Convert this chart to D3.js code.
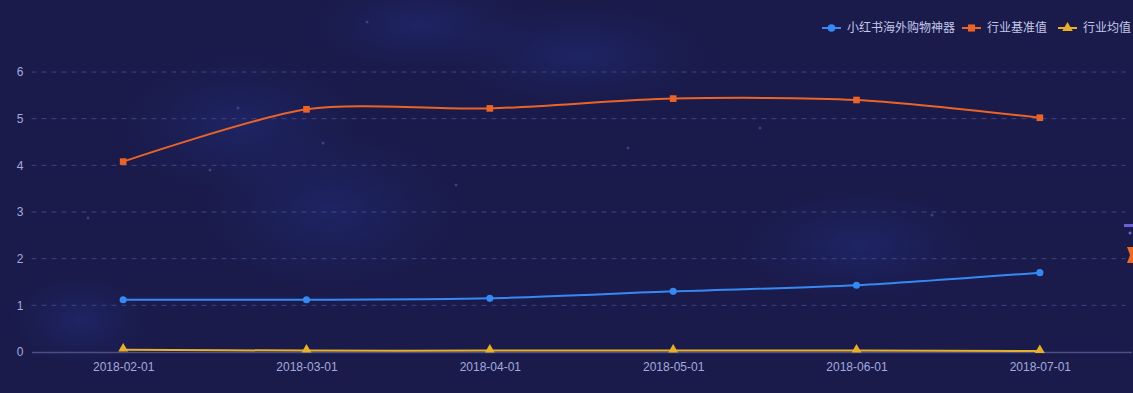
<!DOCTYPE html>
<html>
<head>
<meta charset="utf-8">
<script src="https://cdn.jsdelivr.net/npm/d3@7/dist/d3.min.js"></script>
<style>
  html, body { margin: 0; padding: 0; background: #1a1b4b; overflow: hidden; }
  svg text { font-family: "Liberation Sans", "Noto Sans CJK SC", sans-serif; }
</style>
</head>
<body>
<div class="chart"></div>
<script>
// data
var months = ["2018-02-01", "2018-03-01", "2018-04-01", "2018-05-01", "2018-06-01", "2018-07-01"];
var xhsValues = [1.12, 1.12, 1.15, 1.30, 1.43, 1.70];
var benchValues = [4.08, 5.20, 5.22, 5.43, 5.40, 5.02];
var avgValues = [0.05, 0.03, 0.03, 0.03, 0.03, 0.02];
var yTicks = [0, 1, 2, 3, 4, 5, 6];
var seriesNames = ["小红书海外购物神器", "行业基准值", "行业均值"];

var svgWidth = 1133, svgHeight = 393;
var margin = { top: 72, right: 1.5, bottom: 41, left: 31.5 };
var width = svgWidth - margin.left - margin.right;
var height = svgHeight - margin.top - margin.bottom;

var svg = d3.select(".chart").append("svg")
    .attr("width", svgWidth)
    .attr("height", svgHeight);

// background with faint nebula
var defs = svg.append("defs");
var glow = defs.append("radialGradient").attr("id", "glow");
glow.append("stop").attr("offset", "0%").attr("stop-color", "#26348f").attr("stop-opacity", 0.35);
glow.append("stop").attr("offset", "60%").attr("stop-color", "#26348f").attr("stop-opacity", 0.12);
glow.append("stop").attr("offset", "100%").attr("stop-color", "#26348f").attr("stop-opacity", 0);

svg.append("rect").attr("width", svgWidth).attr("height", svgHeight).attr("fill", "#1a1b4b");
var blobs = [[240, 125, 120, 70], [420, 25, 110, 45], [330, 210, 130, 80], [860, 245, 120, 55], [580, 55, 130, 50], [80, 320, 70, 45]];
svg.selectAll("ellipse.blob").data(blobs).enter().append("ellipse")
    .attr("class", "blob")
    .attr("cx", d => d[0]).attr("cy", d => d[1])
    .attr("rx", d => d[2]).attr("ry", d => d[3])
    .attr("fill", "url(#glow)");
var stars = [[367, 22], [238, 108], [88, 218], [323, 143], [456, 185], [760, 128], [628, 148], [210, 170], [932, 215]];
svg.selectAll("circle.star").data(stars).enter().append("circle")
    .attr("class", "star")
    .attr("cx", d => d[0]).attr("cy", d => d[1]).attr("r", 1.5)
    .attr("fill", "#5a64b4").attr("opacity", 0.5);

var chartGroup = svg.append("g")
    .attr("transform", `translate(${margin.left}, ${margin.top})`);

// scales
var xScale = d3.scalePoint().domain(months).range([0, width]).padding(0.5);
var yScale = d3.scaleLinear().domain([0, 6]).range([height, 0]);

// grid lines
chartGroup.append("g")
    .selectAll("line")
    .data(yTicks.filter(d => d > 0))
    .enter().append("line")
    .attr("x1", 0).attr("x2", width - 6)
    .attr("y1", d => yScale(d)).attr("y2", d => yScale(d))
    .attr("stroke", "#3e4585")
    .attr("stroke-width", 1)
    .attr("stroke-dasharray", "5,5");

// y axis labels
var leftAxis = d3.axisLeft(yScale).tickValues(yTicks).tickFormat(d3.format("d")).tickSize(0).tickPadding(8);
var yAxisG = chartGroup.append("g").call(leftAxis);
yAxisG.select(".domain").remove();
yAxisG.selectAll("text").attr("fill", "#a4aadc").style("font-size", "12px");

// x axis
var bottomAxis = d3.axisBottom(xScale).tickSize(0).tickPadding(10);
var xAxisG = chartGroup.append("g")
    .attr("transform", `translate(0, ${height})`)
    .call(bottomAxis);
xAxisG.select(".domain").attr("stroke", "#4b4f86").attr("stroke-width", 1.5);
xAxisG.selectAll("text").attr("fill", "#a4aadc").style("font-size", "12px");

// lines
var series = [
    { name: seriesNames[0], values: xhsValues, color: "#3689f2", symbol: d3.symbolCircle, size: 40 },
    { name: seriesNames[1], values: benchValues, color: "#ea6428", symbol: d3.symbolSquare, size: 44 },
    { name: seriesNames[2], values: avgValues, color: "#e6b02a", symbol: d3.symbolTriangle, size: 42 }
];

var line = d3.line()
    .x((d, i) => xScale(months[i]))
    .y(d => yScale(d))
    .curve(d3.curveCardinal.tension(0.2));

series.forEach(function (s) {
    chartGroup.append("path")
        .attr("d", line(s.values))
        .attr("fill", "none")
        .attr("stroke", s.color)
        .attr("stroke-width", 2);

    chartGroup.selectAll(null)
        .data(s.values)
        .enter().append("path")
        .attr("d", d3.symbol().type(s.symbol).size(s.size))
        .attr("transform", (d, i) => `translate(${xScale(months[i])}, ${yScale(d) - (s.symbol === d3.symbolTriangle ? 1 : 0)})`)
        .attr("fill", s.color);
});

// legend
var legendX = [822, 962, 1058];
var legend = svg.append("g");
series.forEach(function (s, i) {
    var g = legend.append("g").attr("transform", `translate(${legendX[i]}, 28)`);
    g.append("line").attr("x1", 0).attr("x2", 19).attr("y1", 0).attr("y2", 0)
        .attr("stroke", s.color).attr("stroke-width", 2);
    g.append("path")
        .attr("d", d3.symbol().type(s.symbol).size(s.size + 6))
        .attr("transform", "translate(9.5, 0)")
        .attr("fill", s.color);
    g.append("text")
        .attr("x", 25).attr("y", 0).attr("dy", "0.35em")
        .attr("fill", "#c3c7ea")
        .style("font-size", "12px")
        .style("font-family", "'Noto Sans CJK SC', sans-serif")
        .text(s.name);
});

// cut-off decoration at the right edge
svg.append("rect").attr("x", 1124).attr("y", 224).attr("width", 9).attr("height", 3).attr("fill", "#6a62d8");
svg.append("circle").attr("cx", 1130).attr("cy", 233).attr("r", 1.5).attr("fill", "#6a62d8");
svg.append("path")
    .attr("d", "M1127,247 L1133,247 L1133,263 L1127,263 L1130,255 Z")
    .attr("fill", "#ee6a22");
</script>
</body>
</html>
